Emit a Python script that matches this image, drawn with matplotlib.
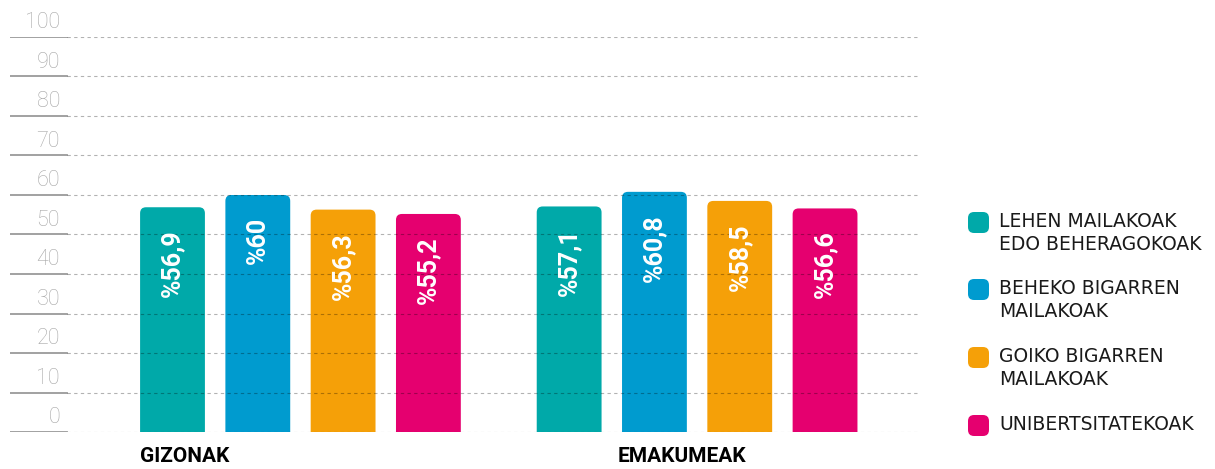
import matplotlib
matplotlib.use("Agg")
import matplotlib.pyplot as plt
from matplotlib.patches import FancyBboxPatch

groups = ['GIZONAK', 'EMAKUMEAK']
levels = ['LEHEN MAILAKOAK\nEDO BEHERAGOKOAK',
          'BEHEKO BIGARREN\nMAILAKOAK',
          'GOIKO BIGARREN\nMAILAKOAK',
          'UNIBERTSITATEKOAK']
gizonak = [56.9, 60, 56.3, 55.2]
emakumeak = [57.1, 60.8, 58.5, 56.6]
colors = ['#00a9a9', '#009bcf', '#f5a008', '#e5006f']
yticks = [0, 10, 20, 30, 40, 50, 60, 70, 80, 90, 100]

plt.rcParams['font.family'] = ['Roboto', 'DejaVu Sans']

W, H = 1215, 469
fig = plt.figure(figsize=(W / 100, H / 100), dpi=100)
ax = fig.add_axes([10 / W, 37 / H, 908 / W, 395 / H])

unit = 85.3  # px per x unit
ax.set_xlim(-(172.5 - 10) / unit, (918 - 172.5) / unit)
ax.set_ylim(0, 100)
ax.axis('off')

bw = 0.76
aspect = (100 / 395) / (1 / unit)
xpos = [[0, 1, 2, 3], [4.65, 5.65, 6.65, 7.65]]
label_x = [-0.38, 5.22]
for gi, vals in enumerate([gizonak, emakumeak]):
    for i, v in enumerate(vals):
        x = xpos[gi][i]
        p = FancyBboxPatch((x - bw / 2, -5), bw, v + 5,
                           boxstyle="round,pad=0,rounding_size=0.07",
                           mutation_aspect=aspect, fc=colors[i], ec='none',
                           zorder=2, clip_on=True)
        ax.add_patch(p)
        lab = '%' + f'{v:g}'.replace('.', ',')
        ax.annotate(lab, (x, v), xytext=(0, -16), textcoords='offset points',
                    rotation=90, ha='center', va='top', color='white',
                    fontsize=18, fontweight='bold', zorder=4)
    ax.text(label_x[gi], -3.9, groups[gi],
            ha='left', va='top', fontsize=15, fontweight='bold', color='black',
            clip_on=False)

split = (67 - 10) / 908
ytr = ax.get_yaxis_transform()
for t in yticks:
    ax.axhline(t, 0, split, color='#9a9a9a', lw=1.3, zorder=3)
    ax.axhline(t, split, 1, color=(0, 0, 0, 0.3), lw=0.8, dashes=(3, 3),
               zorder=3)
    ax.text((60 - 10) / 908, t + 0.9, str(t), transform=ytr, ha='right',
            va='bottom', fontsize=15.5, fontweight='light', color='#a6a6a6')

# legend
ys = [223, 290, 358, 426]
for i, lab in enumerate(levels):
    y = ys[i]
    sq = FancyBboxPatch((968 / W, 1 - (y + 10) / H), 21 / W, 21 / H,
                        boxstyle="round,pad=0,rounding_size=0.005",
                        mutation_aspect=W / H, transform=fig.transFigure,
                        fc=colors[i], ec='none')
    fig.patches.append(sq)
    fig.text(999 / W, 1 - (y - 11) / H, lab, ha='left', va='top',
             fontsize=13.5, color='#1a1a1a', linespacing=1.25,
             family=['DejaVu Sans'])

fig.savefig('out.png', dpi=100)
